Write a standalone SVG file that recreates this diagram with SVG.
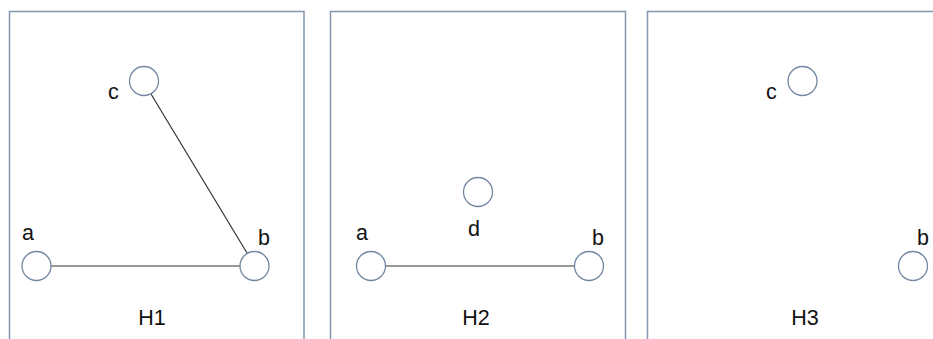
<svg xmlns="http://www.w3.org/2000/svg" width="933" height="339" viewBox="0 0 933 339">
<style>
.frame{fill:none;stroke:#8398ae;stroke-width:1.5}
.node{fill:#fff;stroke:#7388a0;stroke-width:1.3}
.edge{stroke:#333;stroke-width:1.2;fill:none}
text{font-family:"Liberation Sans",Arial,sans-serif;font-size:21.5px;fill:#111}
.t{text-anchor:middle}
</style>
<rect width="933" height="339" fill="#fff"/>
<g id="panels">
<path class="frame" d="M9.5,345 V11.5 H304 V345"/>
<path class="frame" d="M330.5,345 V11.5 H625.5 V345"/>
<path class="frame" d="M647.5,345 V11.5 H940"/>
</g>
<g id="connectors">
<line class="edge" x1="51" y1="266" x2="240" y2="266"/>
<line class="edge" x1="151" y1="94" x2="247" y2="253"/>
<line class="edge" x1="385.5" y1="266" x2="574.5" y2="266"/>
</g>
<g id="H1-c"><circle class="node" cx="144" cy="81" r="14.5"/><text x="108" y="99">c</text></g>
<g id="H1-a"><circle class="node" cx="36.5" cy="266" r="14.5"/><text x="22" y="240">a</text></g>
<g id="H1-b"><circle class="node" cx="254.5" cy="266" r="14.5"/><text x="258" y="245">b</text></g>
<g id="H1-label"><text class="t" x="152" y="325">H1</text></g>
<g id="H2-d"><circle class="node" cx="478" cy="192" r="14.5"/><text x="468" y="236">d</text></g>
<g id="H2-a"><circle class="node" cx="371" cy="266" r="14.5"/><text x="356" y="240">a</text></g>
<g id="H2-b"><circle class="node" cx="589" cy="266" r="14.5"/><text x="592" y="245">b</text></g>
<g id="H2-label"><text class="t" x="476" y="325">H2</text></g>
<g id="H3-c"><circle class="node" cx="802.5" cy="81" r="14.5"/><text x="766" y="99">c</text></g>
<g id="H3-b"><circle class="node" cx="913" cy="266" r="14.5"/><text x="917" y="245">b</text></g>
<g id="H3-label"><text class="t" x="805" y="325">H3</text></g>
</svg>
